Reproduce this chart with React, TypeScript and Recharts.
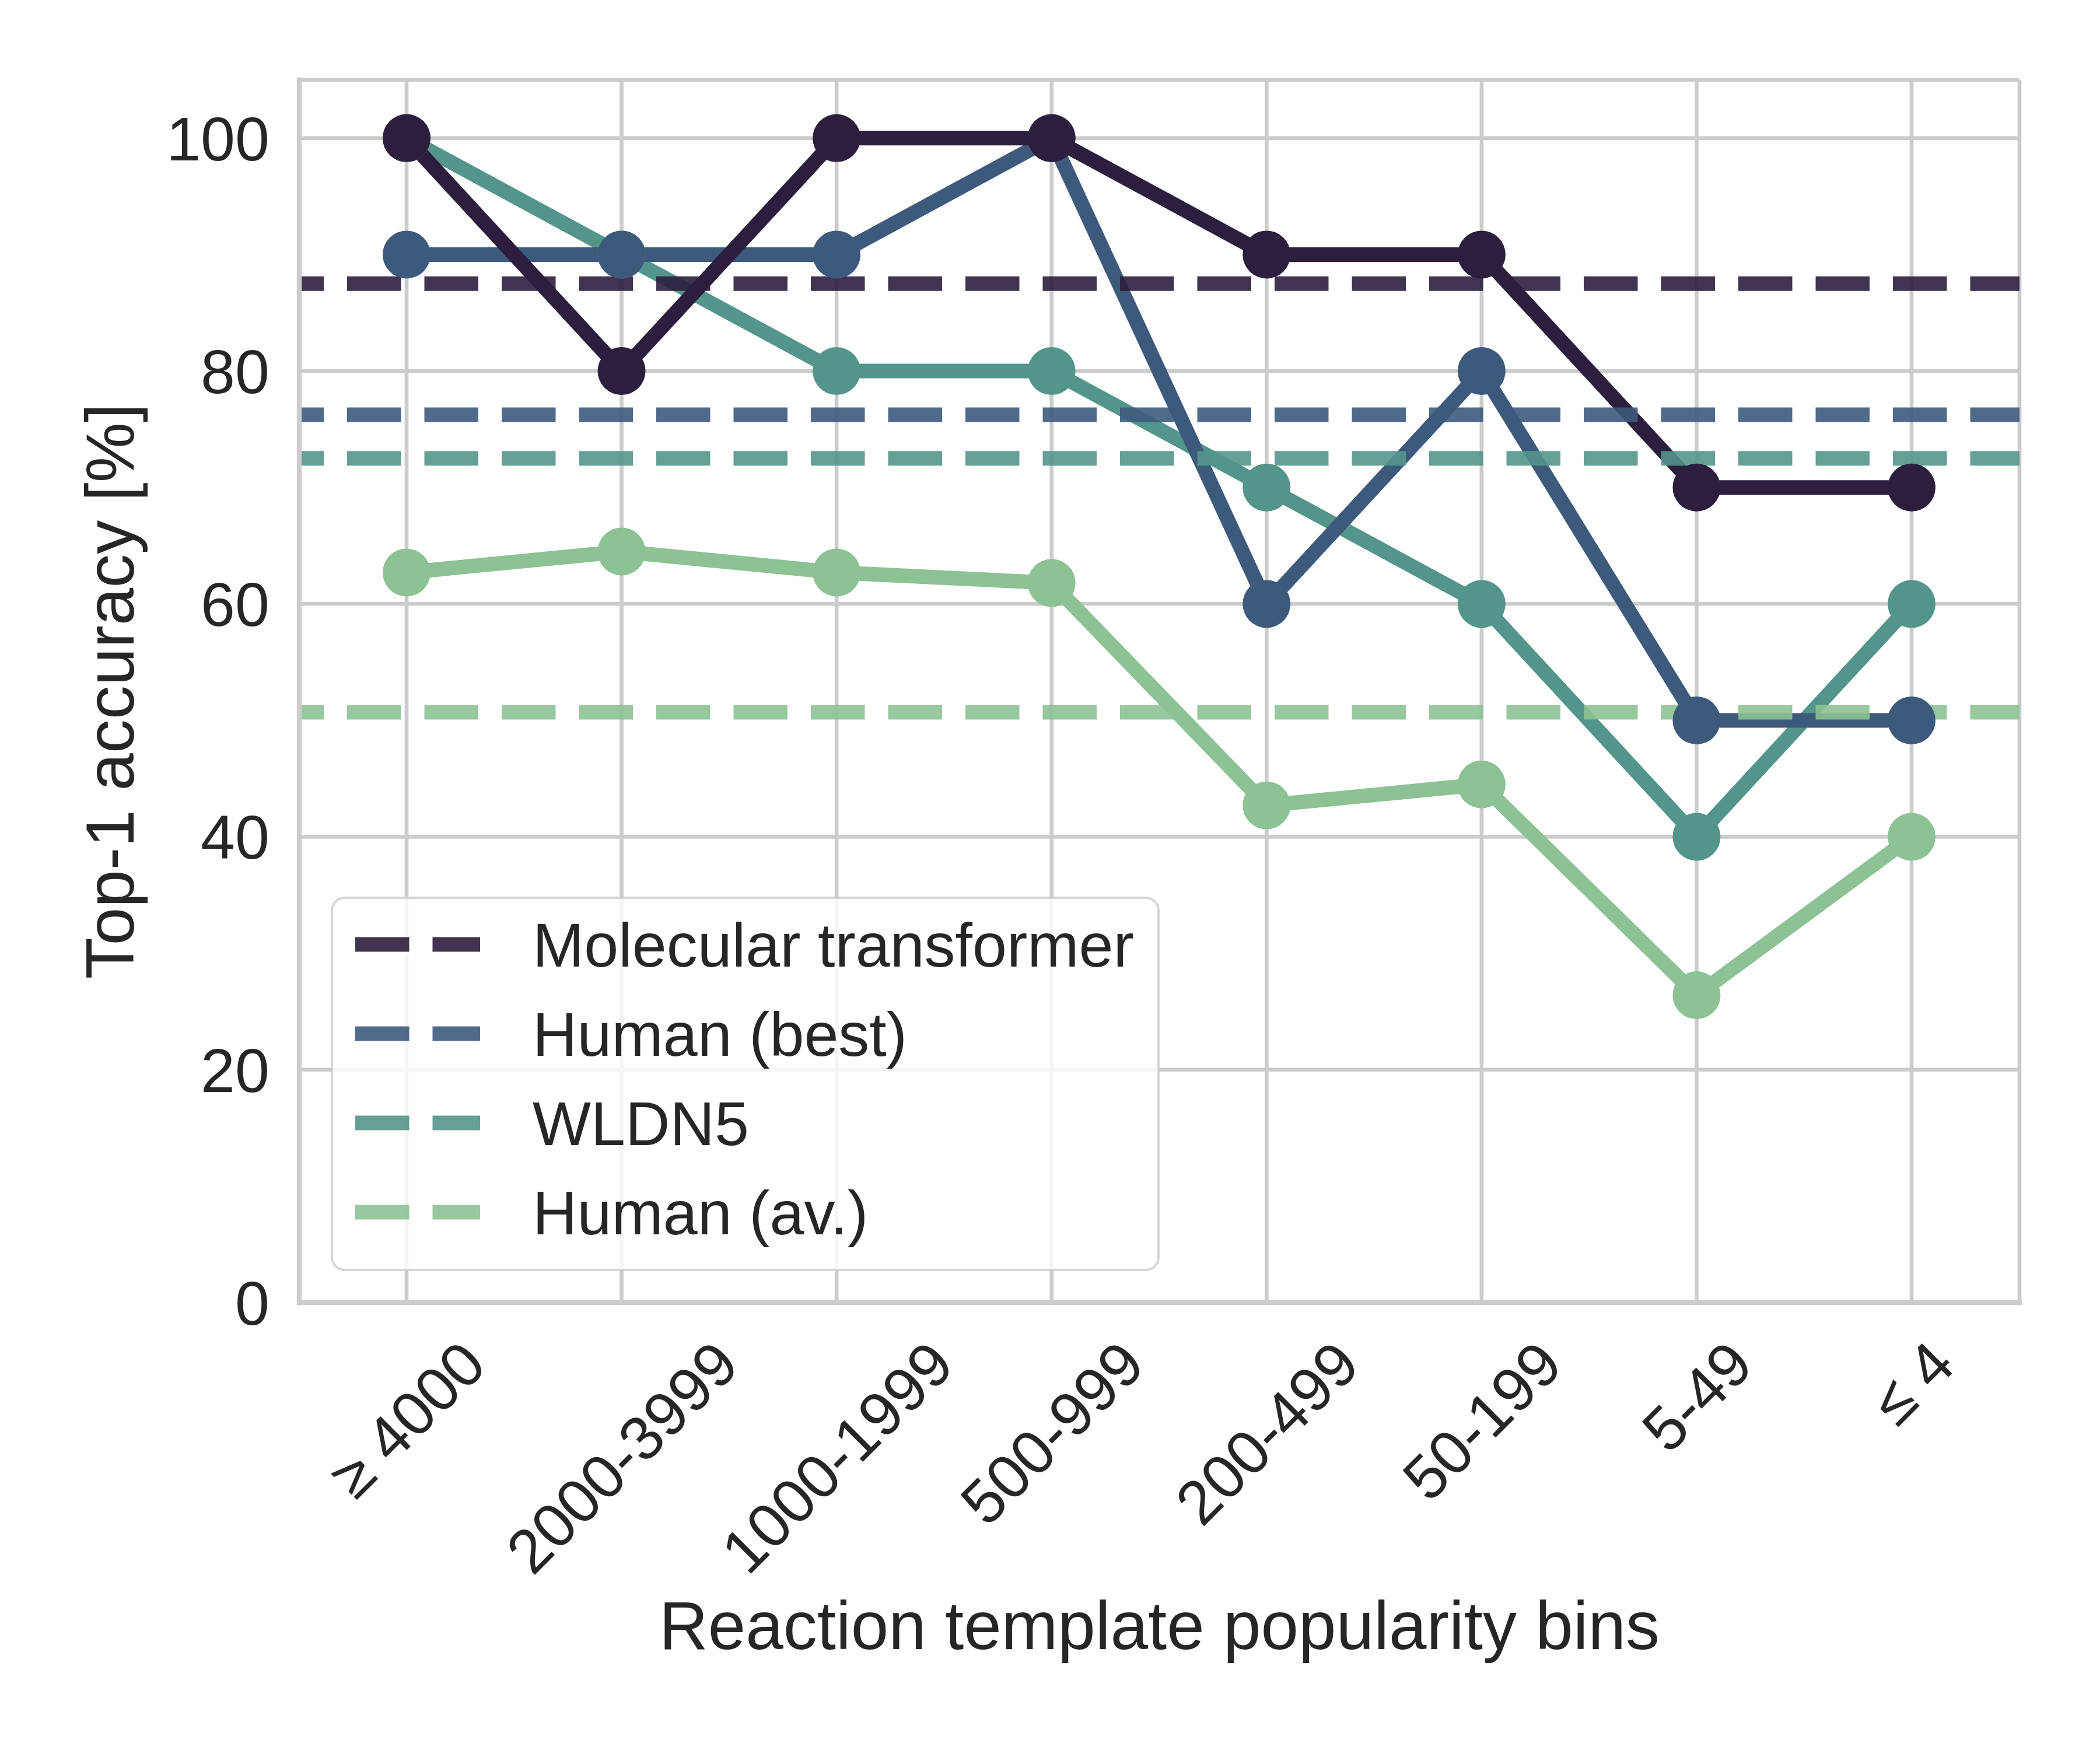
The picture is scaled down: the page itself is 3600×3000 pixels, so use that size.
import React from "react";
import {
  LineChart,
  Line,
  XAxis,
  YAxis,
  CartesianGrid,
  ReferenceLine,
  Legend,
} from "recharts";

// popularity bins, most popular first
const bins = [
  "≥ 4000",
  "2000-3999",
  "1000-1999",
  "500-999",
  "200-499",
  "50-199",
  "5-49",
  "≤ 4",
];

// top-1 accuracy per bin [%]
const molecularTransformer = [100, 80, 100, 100, 90, 90, 70, 70];
const humanBest = [90, 90, 90, 100, 60, 80, 50, 50];
const wldn5 = [100, 90, 80, 80, 70, 60, 40, 60];
const humanAverage = [62.7, 64.5, 62.7, 61.8, 42.7, 44.5, 26.4, 40];

// overall accuracy (dashed lines), legend order
const modelNames = ["Molecular transformer", "Human (best)", "WLDN5", "Human (av.)"];
const overallAccuracy = [87.5, 76.25, 72.5, 50.7];

const yTicks = [0, 20, 40, 60, 80, 100];

const COLORS = ["#2c1e3d", "#3d5a7c", "#54958b", "#8cc294"];
const SERIES_KEYS = ["mt", "best", "wldn", "avg"];

const FONT = '"Liberation Sans", Arial, sans-serif';
const TEXT = "#262626";
const GRID = "#cccccc";
const TICK_SIZE = 106;
const LABEL_SIZE = 116;
const LINE_W = 25;
const DASH = "92.5 40";

const data = bins.map((bin, i) => ({
  bin,
  mt: molecularTransformer[i],
  best: humanBest[i],
  wldn: wldn5[i],
  avg: humanAverage[i],
}));

let measureCtx: CanvasRenderingContext2D | null = null;
function textWidth(s: string, size: number) {
  if (!measureCtx) {
    measureCtx = document.createElement("canvas").getContext("2d");
  }
  if (!measureCtx) return s.length * size * 0.556;
  measureCtx.font = `${size}px "Liberation Sans"`;
  return measureCtx.measureText(s).width;
}

function XTick(props: any) {
  const { x, y, payload } = props;
  const label = String(payload.value);
  const w = textWidth(label, TICK_SIZE);
  // centre of the rotated label's box sits under the tick
  const side = (w + 0.75 * TICK_SIZE) * Math.SQRT1_2;
  const cy = y + side / 2;
  return (
    <text
      x={x}
      y={cy + 0.358 * TICK_SIZE}
      textAnchor="middle"
      transform={`rotate(-45 ${x} ${cy})`}
      fontFamily={FONT}
      fontSize={TICK_SIZE}
      fill={TEXT}
    >
      {label}
    </text>
  );
}

function YTick(props: any) {
  const { x, y, payload } = props;
  return (
    <text
      x={x}
      y={y + 0.358 * TICK_SIZE}
      textAnchor="end"
      fontFamily={FONT}
      fontSize={TICK_SIZE}
      fill={TEXT}
    >
      {payload.value}
    </text>
  );
}

function xLabel(props: any) {
  const vb = props.viewBox;
  return (
    <text
      x={vb.x + vb.width / 2}
      y={vb.y + 594}
      textAnchor="middle"
      fontFamily={FONT}
      fontSize={LABEL_SIZE}
      fill={TEXT}
    >
      Reaction template popularity bins
    </text>
  );
}

function yLabel(props: any) {
  const vb = props.viewBox;
  const x = vb.x + vb.width - 284;
  const y = vb.y + vb.height / 2;
  return (
    <text
      x={x}
      y={y}
      textAnchor="middle"
      transform={`rotate(-90 ${x} ${y})`}
      fontFamily={FONT}
      fontSize={LABEL_SIZE}
      fill={TEXT}
    >
      Top-1 accuracy [%]
    </text>
  );
}

function LegendBox() {
  return (
    <svg width={1421} height={642} style={{ display: "block" }}>
      <rect
        x={2}
        y={2}
        width={1417}
        height={638}
        rx={22}
        fill="#ffffff"
        fillOpacity={0.8}
        stroke={GRID}
        strokeOpacity={0.8}
        strokeWidth={4}
      />
      {modelNames.map((name, i) => {
        const cy = 82 + i * 153;
        return (
          <g key={name}>
            <line
              x1={42}
              x2={256}
              y1={cy}
              y2={cy}
              stroke={COLORS[i]}
              strokeOpacity={0.9}
              strokeWidth={LINE_W}
              strokeDasharray={DASH}
            />
            <text
              x={346}
              y={cy + 0.358 * TICK_SIZE}
              fontFamily={FONT}
              fontSize={TICK_SIZE}
              fill={TEXT}
            >
              {name}
            </text>
          </g>
        );
      })}
    </svg>
  );
}

const frameLine = {
  stroke: GRID,
  strokeWidth: 8.33,
  strokeLinecap: "square" as const,
};

export default function App() {
  // draw order: Human (av.) at the bottom, Molecular transformer on top
  const drawOrder = [3, 2, 1, 0];

  return (
    <div
      style={{
        position: "absolute",
        left: 0,
        top: 0,
        width: 3600,
        height: 3000,
        background: "#ffffff",
      }}
    >
      <LineChart
        width={3600}
        height={3000}
        data={data}
        margin={{ top: 137, right: 138, bottom: 167, left: 113 }}
        style={{ fontFamily: FONT }}
      >
        <CartesianGrid stroke={GRID} strokeWidth={6.67} />
        <XAxis
          dataKey="bin"
          height={600}
          padding={{ left: 184, right: 185 }}
          tickLine={false}
          tickSize={0}
          tickMargin={57}
          interval={0}
          tick={<XTick />}
          axisLine={frameLine}
          label={xLabel}
        />
        <XAxis
          xAxisId="top"
          dataKey="bin"
          orientation="top"
          height={0}
          tick={false}
          tickLine={false}
          axisLine={frameLine}
        />
        <YAxis
          type="number"
          domain={[0, 105]}
          ticks={yTicks}
          width={400}
          tickLine={false}
          tickSize={0}
          tickMargin={51}
          tick={<YTick />}
          axisLine={frameLine}
          label={yLabel}
        />
        <YAxis
          yAxisId="right"
          orientation="right"
          domain={[0, 105]}
          width={0}
          tick={false}
          tickLine={false}
          axisLine={frameLine}
        />

        {drawOrder.map((i) => (
          <Line
            key={SERIES_KEYS[i]}
            type="linear"
            dataKey={SERIES_KEYS[i]}
            name={modelNames[i]}
            stroke={COLORS[i]}
            strokeWidth={LINE_W}
            strokeLinejoin="round"
            dot={{ r: 41, fill: COLORS[i], stroke: "none", strokeWidth: 0 }}
            activeDot={false}
            isAnimationActive={false}
          />
        ))}

        {overallAccuracy.map((v, i) => (
          <ReferenceLine
            key={modelNames[i]}
            y={v}
            stroke={COLORS[i]}
            strokeOpacity={0.9}
            strokeWidth={LINE_W}
            strokeDasharray={DASH}
            strokeDashoffset={50.5}
          />
        ))}

        <Legend
          layout="vertical"
          verticalAlign="middle"
          align="center"
          content={<LegendBox />}
          wrapperStyle={{
            left: 567,
            top: 1537,
            width: 1421,
            height: 642,
            lineHeight: 0,
          }}
        />
      </LineChart>
    </div>
  );
}
